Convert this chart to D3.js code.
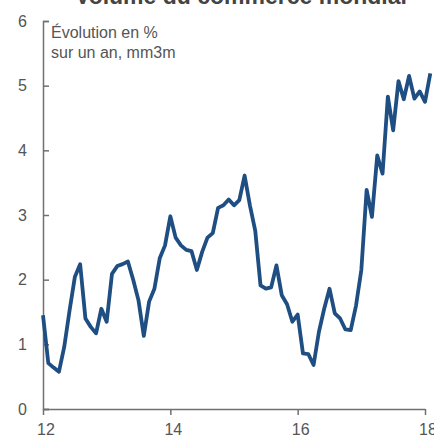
<!DOCTYPE html>
<html>
<head>
<meta charset="utf-8">
<script src="https://cdn.jsdelivr.net/npm/d3@7"></script>
<style>
  body { margin: 0; background: #fff; }
  svg { display: block; font-family: "Liberation Sans", Arial, sans-serif; }
  .axis path, .axis line { stroke: #707070; stroke-width: 1.5; }
  .axis text { fill: #555; font-size: 16px; }
</style>
</head>
<body>
<div id="chart"></div>
<script>
// monthly values, Jan 2012 onwards (% y/y, 3m/3m moving average)
var startYear = 12;
var values = [
    1.45, 0.71, 0.64, 0.575, 0.96, 1.52, 2.04, 2.24, 1.40, 1.27, 1.17, 1.55,
    1.35, 2.09, 2.21, 2.24, 2.28, 2.00, 1.68, 1.13, 1.66, 1.86, 2.33, 2.53,
    2.98, 2.65, 2.53, 2.46, 2.44, 2.15, 2.43, 2.65, 2.72, 3.11, 3.15, 3.24,
    3.15, 3.23, 3.61, 3.15, 2.76, 1.91, 1.86, 1.88, 2.22, 1.76, 1.62, 1.35,
    1.46, 0.86, 0.85, 0.68, 1.19, 1.55, 1.86, 1.48, 1.40, 1.23, 1.22, 1.60,
    2.15, 3.39, 2.97, 3.92, 3.64, 4.83, 4.31, 5.07, 4.79, 5.15, 4.80, 4.91,
    4.75, 5.19
];
var xTicks = [12, 14, 16, 18];
var yTicks = [0, 1, 2, 3, 4, 5, 6];
var noteLines = ["Évolution en %", "sur un an, mm3m"];
var title = "Volume du commerce mondial";

var width = 434, height = 438;
var svg = d3.select("#chart").append("svg")
    .attr("width", width)
    .attr("height", height);

var x = d3.scaleLinear().domain([12, 18]).range([43, 425]);
var y = d3.scaleLinear().domain([0, 6]).range([409, 21]);

// title, mostly cropped off the top
svg.append("text")
    .attr("x", 75)
    .attr("y", 4)
    .attr("font-size", 23)
    .attr("font-weight", "bold")
    .attr("fill", "#444")
    .text(title);

// y axis
var yAxis = d3.axisLeft(y)
    .tickValues(yTicks)
    .tickFormat(d3.format("d"))
    .tickSizeInner(-6)
    .tickSizeOuter(-6)
    .tickPadding(16);
svg.append("g")
    .attr("class", "axis")
    .attr("transform", "translate(" + x(12) + ",0)")
    .call(yAxis);

// x axis
var xAxis = d3.axisBottom(x)
    .tickValues(xTicks)
    .tickFormat(d3.format("d"))
    .tickSizeInner(6)
    .tickSizeOuter(0)
    .tickPadding(9);
var gx = svg.append("g")
    .attr("class", "axis")
    .attr("transform", "translate(0," + y(0) + ")")
    .call(xAxis);
gx.selectAll(".tick text").attr("dx", 2.5);

// note
svg.append("g").selectAll("text")
    .data(noteLines)
    .enter().append("text")
    .attr("x", 51)
    .attr("y", function(d, i) { return 38 + i * 20; })
    .attr("font-size", 16)
    .attr("fill", "#555")
    .text(function(d) { return d; });

// line
var line = d3.line()
    .x(function(d, i) { return x(startYear + i / 12); })
    .y(function(d) { return y(d); });

svg.append("path")
    .datum(values)
    .attr("d", line)
    .attr("fill", "none")
    .attr("stroke", "#1f4e82")
    .attr("stroke-width", 3.8)
    .attr("stroke-linejoin", "round");
</script>
</body>
</html>
